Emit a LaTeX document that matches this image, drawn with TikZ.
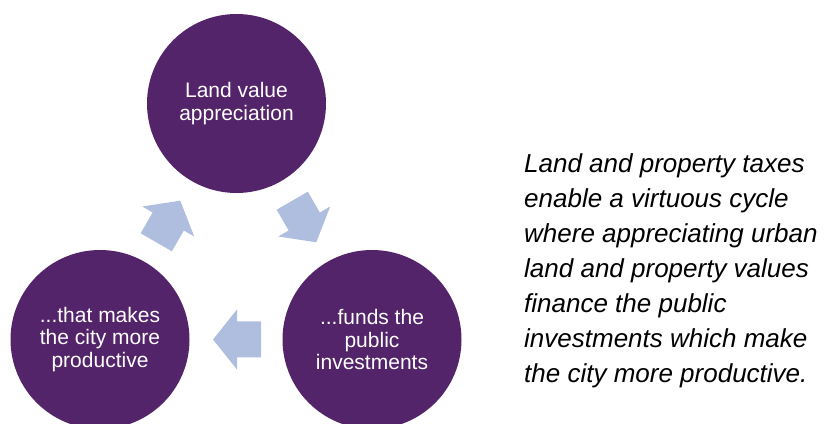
\documentclass[tikz,border=0pt]{standalone}
\usepackage{fontspec}
\setmainfont{Liberation Sans}
\usetikzlibrary{calc}
\definecolor{cyclepurple}{RGB}{83,36,106}
\definecolor{arrowblue}{RGB}{175,189,222}
\begin{document}
\begin{tikzpicture}[x=1pt,y=1pt,
  stage/.style={circle, fill=cyclepurple, text=white, minimum size=179pt, inner sep=0pt,
    align=center, font=\fontsize{21}{22.5}\selectfont},
  blockarrow/.pic={\fill[arrowblue] (-24,-18) -- (0,-18) -- (0,-30) -- (24,0) -- (0,30) -- (0,18) -- (-24,18) -- cycle;},
  note/.style={anchor=north west, inner sep=0pt, align=left, font=\fontsize{26}{35}\selectfont\itshape}
]
\useasboundingbox (0,0) rectangle (827,423);
\node[stage] (top) at (236.5,319.5) {Land value\\appreciation};
\node[stage] (right) at (372,83.5) {...funds the\\public\\investments};
\node[stage] (left) at (100,83.5) {...that makes\\the city more\\productive};
\pic[rotate=60] at ($(left)!0.5!(top)$) {blockarrow};
\pic[rotate=-60] at ($(top)!0.5!(right)$) {blockarrow};
\pic[rotate=180] at ($(right)!0.5!(left)+(1,0)$) {blockarrow};
\node[note] (caption) at (524,270) {Land and property taxes\\enable a virtuous cycle\\where appreciating urban\\land and property values\\finance the public\\investments which make\\the city more productive.};
\end{tikzpicture}
\end{document}
